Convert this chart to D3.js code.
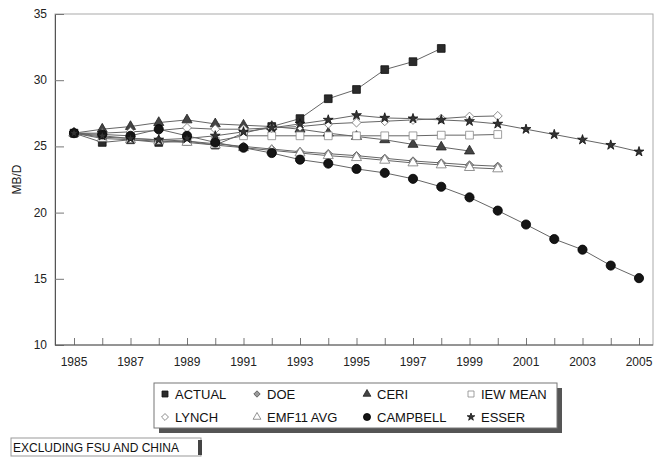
<!DOCTYPE html>
<html>
<head>
<meta charset="utf-8">
<script src="https://cdn.jsdelivr.net/npm/d3@7"></script>
<style>
  body { margin: 0; background: #fff; }
  text { font-family: Arial, "Liberation Sans", sans-serif; }
</style>
</head>
<body>
<script>
// data (MB/D)
var years = [1985, 1986, 1987, 1988, 1989, 1990, 1991, 1992, 1993, 1994, 1995,
             1996, 1997, 1998, 1999, 2000, 2001, 2002, 2003, 2004, 2005];
var tickYears = [1985, 1987, 1989, 1991, 1993, 1995, 1997, 1999, 2001, 2003, 2005];
var yTicks = [10, 15, 20, 25, 30, 35];

var actual   = [26.0, 25.3, 25.5, 25.3, 25.4, 25.1, 26.0, 26.5, 27.1, 28.6, 29.3, 30.8, 31.4, 32.4];
var doe      = [26.0, 25.7, 25.6, 25.5, 25.4, 25.2, 25.0, 24.8, 24.6, 24.45, 24.3, 24.1, 23.9, 23.75, 23.6, 23.5];
var ceri     = [26.0, 26.3, 26.5, 26.8, 27.0, 26.7, 26.6, 26.5, 26.3, 26.0, 25.75, 25.5, 25.15, 24.95, 24.65];
var iewStart = 1990;
var iew      = [25.4, 25.8, 25.8, 25.8, 25.8, 25.8, 25.8, 25.8, 25.85, 25.85, 25.9];
var lynch    = [26.0, 26.0, 26.1, 26.2, 26.4, 26.3, 26.3, 26.4, 26.5, 26.7, 26.8, 26.9, 27.0, 27.1, 27.25, 27.3];
var emf      = [26.0, 25.6, 25.5, 25.4, 25.3, 25.1, 24.9, 24.7, 24.5, 24.3, 24.15, 23.95, 23.75, 23.6, 23.4, 23.3];
var campbell = [26.0, 25.9, 25.8, 26.3, 25.8, 25.3, 24.9, 24.5, 24.0, 23.7, 23.3, 23.0, 22.55, 21.95, 21.15,
                20.15, 19.1, 18.0, 17.2, 16.0, 15.05];
var esser    = [26.0, 25.8, 25.6, 25.5, 25.6, 25.8, 26.1, 26.4, 26.7, 27.0, 27.35, 27.15, 27.1, 27.0, 26.9,
                26.7, 26.3, 25.9, 25.5, 25.1, 24.6];

// series styles
var series = [
  {name: "ACTUAL",    values: actual,   start: 1985, sym: d3.symbolSquare,   size: 60, rot: 0,  fill: "#2b2b2b", stroke: "#111"},
  {name: "DOE",       values: doe,      start: 1985, sym: d3.symbolSquare,   size: 34, rot: 45, fill: "#9a9a9a", stroke: "#555"},
  {name: "CERI",      values: ceri,     start: 1985, sym: d3.symbolTriangle, size: 44, rot: 0,  fill: "#444",    stroke: "#222"},
  {name: "IEW MEAN",  values: iew,      start: iewStart, sym: d3.symbolSquare, size: 60, rot: 0, fill: "#fff",  stroke: "#888"},
  {name: "LYNCH",     values: lynch,    start: 1985, sym: d3.symbolSquare,   size: 40, rot: 45, fill: "#fff",    stroke: "#777"},
  {name: "EMF11 AVG", values: emf,      start: 1985, sym: d3.symbolTriangle, size: 44, rot: 0,  fill: "#fff",    stroke: "#777"},
  {name: "CAMPBELL",  values: campbell, start: 1985, sym: d3.symbolCircle,   size: 66, rot: 0,  fill: "#151515", stroke: "#000"},
  {name: "ESSER",     values: esser,    start: 1985, sym: d3.symbolStar,     size: 30, rot: 0,  fill: "#333",    stroke: "#111"}
];

var W = 659, H = 459;
var plot = {left: 55, right: 653, top: 14, bottom: 345};

var svg = d3.select("body").append("svg")
    .attr("width", W)
    .attr("height", H);

var xScale = d3.scaleLinear().domain([1985, 2005]).range([74, 639]);
var yScale = d3.scaleLinear().domain([10, 35]).range([plot.bottom, plot.top]);

// frame
svg.append("rect")
    .attr("x", plot.left)
    .attr("y", plot.top)
    .attr("width", plot.right - plot.left)
    .attr("height", plot.bottom - plot.top)
    .style("fill", "none")
    .style("stroke", "#aaa")
    .style("stroke-width", 1);

// y axis
var yAxis = d3.axisRight(yScale).tickValues(yTicks).tickSize(9).tickFormat("");
svg.append("g")
    .attr("transform", "translate(" + plot.left + ",0)")
    .call(yAxis)
    .call(function(g) {
        g.select(".domain").attr("stroke", "#555");
        g.selectAll(".tick line").attr("stroke", "#777");
    });

svg.append("g").selectAll("text")
    .data(yTicks)
    .enter()
    .append("text")
    .attr("x", 47)
    .attr("y", function(d) { return yScale(d) + 4; })
    .attr("text-anchor", "end")
    .attr("font-size", "12px")
    .attr("fill", "#222")
    .text(function(d) { return d; });

// x axis
var xAxis = d3.axisTop(xScale).tickValues(years).tickSize(7).tickFormat("");
svg.append("g")
    .attr("transform", "translate(0," + plot.bottom + ")")
    .call(xAxis)
    .call(function(g) {
        g.select(".domain").remove();
        g.selectAll(".tick line").attr("stroke", "#777");
    });

svg.append("line")
    .attr("x1", plot.left).attr("x2", plot.right)
    .attr("y1", plot.bottom).attr("y2", plot.bottom)
    .style("stroke", "#555");

svg.append("g").selectAll("text")
    .data(tickYears)
    .enter()
    .append("text")
    .attr("x", function(d) { return xScale(d); })
    .attr("y", 366)
    .attr("text-anchor", "middle")
    .attr("font-size", "12px")
    .attr("fill", "#222")
    .text(function(d) { return d; });

// y axis title
svg.append("text")
    .attr("transform", "translate(21," + yScale(22.5) + ")rotate(-90)")
    .attr("text-anchor", "middle")
    .attr("font-size", "12px")
    .attr("fill", "#222")
    .text("MB/D");

// lines and markers
var line = d3.line()
    .x(function(d) { return xScale(d.year); })
    .y(function(d) { return yScale(d.value); });

series.forEach(function(s) {
    var pts = s.values.map(function(v, i) { return {year: years[years.indexOf(s.start) + i], value: v}; });
    svg.append("path")
        .datum(pts)
        .attr("d", line)
        .style("fill", "none")
        .style("stroke", "#666")
        .style("stroke-width", 1);
    s.pts = pts;
});

series.forEach(function(s) {
    svg.append("g").selectAll("path")
        .data(s.pts)
        .enter()
        .append("path")
        .attr("d", d3.symbol().type(s.sym).size(s.size))
        .attr("transform", function(d) {
            return "translate(" + xScale(d.year) + "," + yScale(d.value) + ")rotate(" + s.rot + ")";
        })
        .style("fill", s.fill)
        .style("stroke", s.stroke)
        .style("stroke-width", 0.8);
});

// legend
var legend = {x: 154, y: 383, w: 403, h: 45};
svg.append("rect")
    .attr("x", legend.x + 5)
    .attr("y", legend.y + 5)
    .attr("width", legend.w)
    .attr("height", legend.h)
    .style("fill", "#555");
svg.append("rect")
    .attr("x", legend.x)
    .attr("y", legend.y)
    .attr("width", legend.w)
    .attr("height", legend.h)
    .style("fill", "#fff")
    .style("stroke", "#777");

var colX = [165, 257, 367, 471];
var rowY = [394, 417];
series.forEach(function(s, i) {
    var cx = colX[i % 4], cy = rowY[Math.floor(i / 4)];
    svg.append("path")
        .attr("d", d3.symbol().type(s.sym).size(s.size * 0.6))
        .attr("transform", "translate(" + cx + "," + cy + ")rotate(" + s.rot + ")")
        .style("fill", s.fill)
        .style("stroke", s.stroke)
        .style("stroke-width", 0.8);
    svg.append("text")
        .attr("x", cx + 10)
        .attr("y", cy + 5)
        .attr("font-size", "13px")
        .attr("fill", "#111")
        .text(s.name);
});

// footnote
svg.append("rect")
    .attr("x", 11)
    .attr("y", 438)
    .attr("width", 190)
    .attr("height", 18)
    .style("fill", "#fff")
    .style("stroke", "#999");
svg.append("rect")
    .attr("x", 198)
    .attr("y", 440)
    .attr("width", 4)
    .attr("height", 15)
    .style("fill", "#444");
svg.append("text")
    .attr("x", 13)
    .attr("y", 452)
    .attr("font-size", "12px")
    .attr("fill", "#111")
    .text("EXCLUDING FSU AND CHINA");
</script>
</body>
</html>
